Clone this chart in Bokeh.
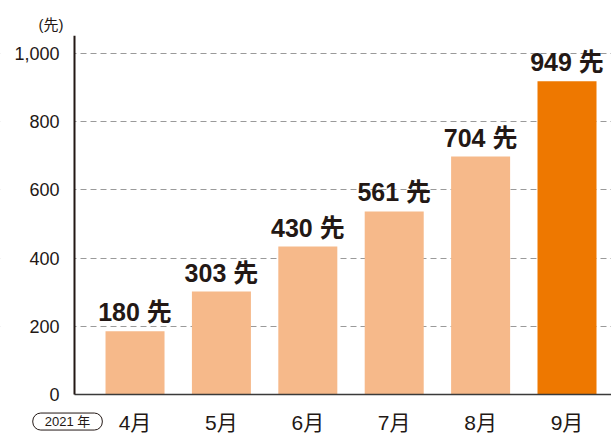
from bokeh.plotting import figure
from bokeh.models import ColumnDataSource, FixedTicker, NumeralTickFormatter, Range1d, Title, Label
from bokeh.core.properties import value
from bokeh.embed import file_html
from bokeh.resources import INLINE

months = ["4月", "5月", "6月", "7月", "8月", "9月"]
bar_values = [186, 302, 434, 537, 698, 919]      # bar heights as drawn in the picture
label_values = [180, 303, 430, 561, 704, 949]    # printed counts
y_ticks = [0, 200, 400, 600, 800, 1000]
unit_label = "(先)"
year_label = "2021 年"

LIGHT = "#F6B98A"
DARK = "#EE7800"
INK = "#231815"
FONT = "'Liberation Sans', 'Noto Sans CJK JP'"

# axis placement (data units)
X_START, X_AXIS, X_END = -1.557, -0.70, 5.515
Y_START, Y_END = -117, 1053

xs = list(range(len(months)))
colors = [LIGHT] * (len(months) - 1) + [DARK]
texts = [f"{v} 先" for v in label_values]

src = ColumnDataSource(dict(x=xs, top=bar_values, color=colors, text=texts))

p = figure(output_backend="svg", toolbar_location=None,
           frame_width=611, frame_height=399,
           x_range=Range1d(X_START, X_END), y_range=Range1d(Y_START, Y_END),
           min_border_left=0, min_border_top=35, min_border_bottom=0, min_border_right=0)
p.outline_line_color = None
p.background_fill_color = "white"
p.border_fill_color = "white"

# white backing for the y-label area, so dashed grid lines start at the axis
p.quad(left=X_START - 1, right=X_AXIS, bottom=Y_START - 100, top=Y_END + 100,
       color="white", line_color=None)

p.vbar(x="x", top="top", width=0.683, color="color", source=src, line_color=None)
p.text(x="x", y="top", text="text", source=src, text_align="center",
       text_baseline="alphabetic", y_offset=-19, text_font=value(FONT),
       text_font_size="25px", text_font_style="bold", text_color=INK)

p.xgrid.visible = False
p.ygrid.ticker = FixedTicker(ticks=y_ticks[1:])
p.ygrid.grid_line_color = "#9a9a9a"
p.ygrid.grid_line_dash = "6 4"
p.ygrid.grid_line_width = 1

ya = p.yaxis[0]
ya.fixed_location = X_AXIS
ya.bounds = (0, Y_END)
ya.ticker = FixedTicker(ticks=y_ticks)
ya.formatter = NumeralTickFormatter(format="0,0")
ya.axis_line_color = INK
ya.axis_line_width = 2
ya.major_tick_line_color = None
ya.minor_tick_line_color = None
ya.major_tick_out = 0
ya.major_label_standoff = 15
ya.major_label_text_font = FONT
ya.major_label_text_font_size = "18px"
ya.major_label_text_color = INK

xa = p.xaxis[0]
xa.fixed_location = 0
xa.bounds = (X_AXIS, X_END)
xa.ticker = FixedTicker(ticks=xs)
xa.major_label_overrides = {i: m for i, m in zip(xs, months)}
xa.axis_line_color = "#3a3a3a"
xa.axis_line_width = 1.5
xa.major_tick_line_color = None
xa.minor_tick_line_color = None
xa.major_tick_out = 0
xa.major_label_standoff = 16
xa.major_label_text_font = FONT
xa.major_label_text_font_size = "21px"
xa.major_label_text_color = INK

p.add_layout(Title(text=unit_label, align="left", offset=38, standoff=5,
                   text_font=FONT, text_font_size="15px", text_font_style="normal",
                   text_color=INK), "above")
p.add_layout(Label(x=-0.781, y=-79, text=year_label, text_align="center",
                   text_baseline="middle", text_font=FONT, text_font_size="13px",
                   text_color=INK, border_line_color=INK, border_line_width=1,
                   border_radius=8, background_fill_color="white",
                   padding=dict(left=12, right=12, top=1, bottom=1)))

open("out.html", "w").write(file_html(p, INLINE))
